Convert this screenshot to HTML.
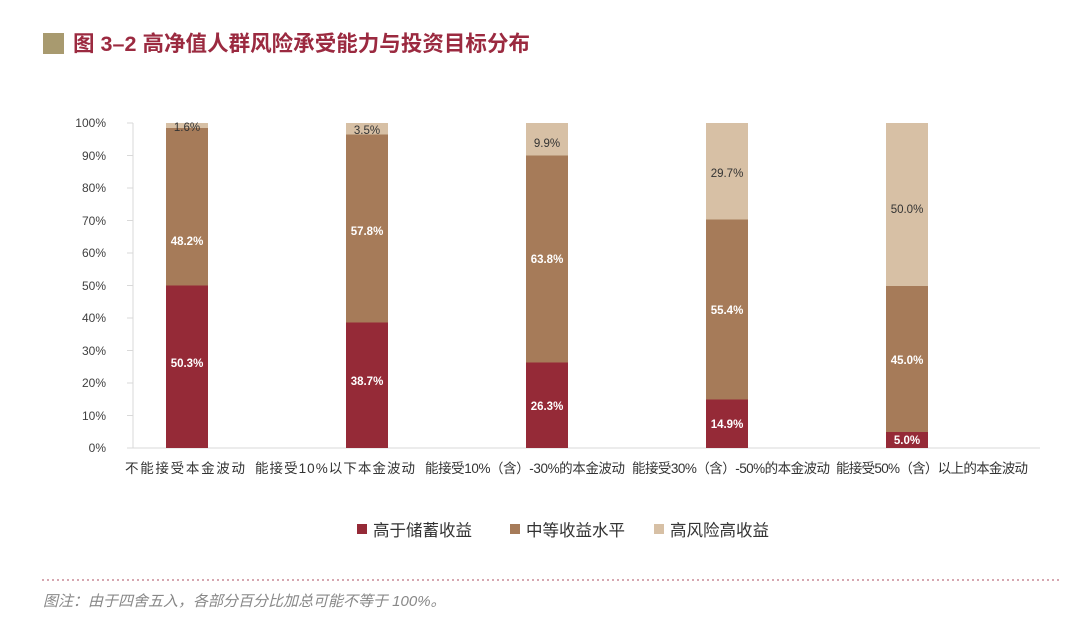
<!DOCTYPE html>
<html><head><meta charset="utf-8"><style>
body{margin:0;background:#fff;}
svg text{font-family:"Liberation Sans","Noto Sans CJK SC",sans-serif;}
</style></head><body>
<svg width="1080" height="628" xmlns="http://www.w3.org/2000/svg">
<rect x="43" y="33" width="21" height="21" fill="#a89a6f"/>
<text x="73" y="51" font-size="21.5" font-weight="bold" fill="#9b2a40" textLength="457">图 3–2  高净值人群风险承受能力与投资目标分布</text>
<g stroke="#d9d9d9" stroke-width="1">
<line x1="133" y1="123" x2="133" y2="448"/>
<line x1="133" y1="448" x2="1040" y2="448"/>
<line x1="127" y1="123" x2="133" y2="123"/><line x1="127" y1="155.5" x2="133" y2="155.5"/><line x1="127" y1="188" x2="133" y2="188"/><line x1="127" y1="220.5" x2="133" y2="220.5"/><line x1="127" y1="253" x2="133" y2="253"/><line x1="127" y1="285.5" x2="133" y2="285.5"/><line x1="127" y1="318" x2="133" y2="318"/><line x1="127" y1="350.5" x2="133" y2="350.5"/><line x1="127" y1="383" x2="133" y2="383"/><line x1="127" y1="415.5" x2="133" y2="415.5"/><line x1="127" y1="448" x2="133" y2="448"/>
</g>
<g font-size="12" fill="#404040" text-anchor="end">
<text x="106" y="127">100%</text><text x="106" y="160">90%</text><text x="106" y="192">80%</text><text x="106" y="225">70%</text><text x="106" y="257">60%</text><text x="106" y="290">50%</text><text x="106" y="322">40%</text><text x="106" y="355">30%</text><text x="106" y="387">20%</text><text x="106" y="420">10%</text><text x="106" y="452">0%</text>
</g>
<g>
<rect x="166" y="285.5" width="42" height="162.5" fill="#952a37"/>
<rect x="166" y="128" width="42" height="157.5" fill="#a67b59"/>
<rect x="166" y="123" width="42" height="5" fill="#d7c0a5"/>

<rect x="346" y="322.5" width="42" height="125.5" fill="#952a37"/>
<rect x="346" y="134.5" width="42" height="188" fill="#a67b59"/>
<rect x="346" y="123" width="42" height="11.5" fill="#d7c0a5"/>

<rect x="526" y="362.5" width="42" height="85.5" fill="#952a37"/>
<rect x="526" y="155.5" width="42" height="207" fill="#a67b59"/>
<rect x="526" y="123" width="42" height="32.5" fill="#d7c0a5"/>

<rect x="706" y="399.5" width="42" height="48.5" fill="#952a37"/>
<rect x="706" y="219.5" width="42" height="180" fill="#a67b59"/>
<rect x="706" y="123" width="42" height="96.5" fill="#d7c0a5"/>

<rect x="886" y="432" width="42" height="16" fill="#952a37"/>
<rect x="886" y="286" width="42" height="146" fill="#a67b59"/>
<rect x="886" y="123" width="42" height="163" fill="#d7c0a5"/>
</g>
<g font-size="11.5" font-weight="bold" text-anchor="middle" fill="#fff">
<text x="187" y="367">50.3%</text><text x="187" y="245">48.2%</text>
<text x="367" y="385">38.7%</text><text x="367" y="235">57.8%</text>
<text x="547" y="410">26.3%</text><text x="547" y="263">63.8%</text>
<text x="727" y="428">14.9%</text><text x="727" y="314">55.4%</text>
<text x="907" y="444">5.0%</text><text x="907" y="364">45.0%</text>
</g>
<g font-size="11.5" text-anchor="middle" fill="#333">
<text x="187" y="131">1.6%</text>
<text x="367" y="134">3.5%</text>
<text x="547" y="147">9.9%</text>
<text x="727" y="177">29.7%</text>
<text x="907" y="213">50.0%</text>
</g>
<g font-size="13.5" fill="#333">
<text x="125" y="473" textLength="120">不能接受本金波动</text>
<text x="255" y="473" textLength="160">能接受10%以下本金波动</text>
<text x="425" y="473" textLength="200">能接受10%（含）-30%的本金波动</text>
<text x="632" y="473" textLength="198">能接受30%（含）-50%的本金波动</text>
<text x="836" y="473" textLength="192">能接受50%（含）以上的本金波动</text>
</g>
<rect x="357" y="524" width="10" height="10" fill="#952a37"/>
<text x="373" y="536" font-size="16.5" fill="#333">高于储蓄收益</text>
<rect x="510" y="524" width="10" height="10" fill="#a67b59"/>
<text x="526" y="536" font-size="16.5" fill="#333">中等收益水平</text>
<rect x="654" y="524" width="10" height="10" fill="#d7c0a5"/>
<text x="670" y="536" font-size="16.5" fill="#333">高风险高收益</text>
<line x1="42" y1="580" x2="1060" y2="580" stroke="#c98a96" stroke-width="1.6" stroke-dasharray="2,3"/>
<text x="43" y="606" font-size="15" font-style="italic" fill="#888">图注：由于四舍五入，各部分百分比加总可能不等于 100%。</text>
</svg>
</body></html>
